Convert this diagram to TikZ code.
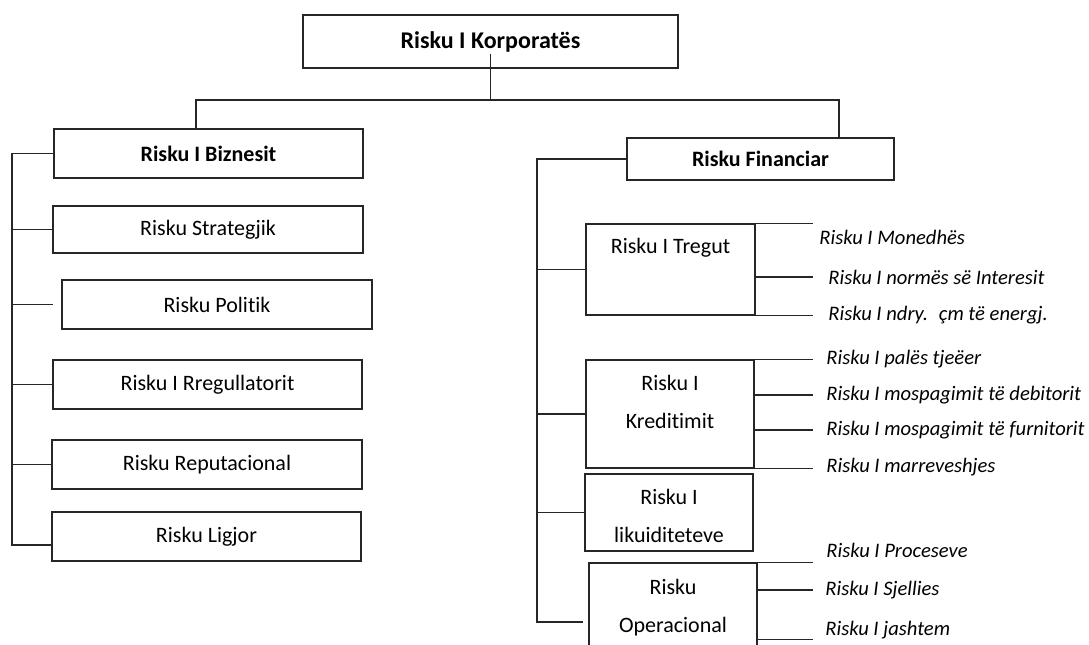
\documentclass[tikz,border=0pt]{standalone}
\usepackage{fontspec}
\setmainfont{Carlito}[Ligatures=NoCommon]
\usetikzlibrary{positioning}

\begin{document}
\begin{tikzpicture}[
        x=0.5pt, y=-0.5pt,
        % This defines the style of our boxes
        box/.style={rectangle, draw=black!85, line width=0.6pt, inner sep=0pt, align=center, font=\fontsize{11}{13}\selectfont},
        head/.style={box, font=\bfseries\fontsize{11}{13}\selectfont},
        % Text inside the small financial boxes
        boxtxt/.style={inner sep=0pt, align=center, font=\fontsize{11}{19}\selectfont},
        % The italic sub-risks on the right
        item/.style={anchor=west, inner sep=0pt, font=\itshape\fontsize{10.3}{13}\selectfont},
        % This defines the style of our connecting lines
        link/.style={draw=black!85, line width=0.6pt}
    ]
    \useasboundingbox (0,0) rectangle (1089,644);

    % --- THE BOXES ---
    \node (corp) [head, font=\bfseries\fontsize{12}{14}\selectfont, minimum width=187.5pt, minimum height=26.5pt] at (490.5,41.5) {Risku I Korporatës};

    \node (bizn) [head, minimum width=154.5pt, minimum height=24.5pt] at (208.5,153.5) {Risku I Biznesit};
    \node (strat) [box, minimum width=155pt, minimum height=23.5pt] at (208,229.5) {Risku Strategjik};
    \node (polit) [box, minimum width=155pt, minimum height=24.5pt] at (217,304.5) {Risku Politik};
    \node (rreg) [box, minimum width=154.5pt, minimum height=24.5pt] at (207.5,384.5) {Risku I Rregullatorit};
    \node (reput) [box, minimum width=155pt, minimum height=24.5pt] at (207,464.5) {Risku Reputacional};
    \node (ligj) [box, minimum width=154.5pt, minimum height=24.5pt] at (206.5,536.5) {Risku Ligjor};

    \node (fin) [head, minimum width=133.5pt, minimum height=21pt] at (760.5,159) {Risku Financiar};
    \node (treg) [box, minimum width=84.5pt, minimum height=45.5pt] at (670.5,269.5) {};
    \node (kred) [box, minimum width=84pt, minimum height=54pt] at (670,414) {};
    \node (likuid) [box, minimum width=84pt, minimum height=38.5pt] at (669,512.5) {};
    \node (oper) [box, minimum width=84pt, minimum height=48.5pt] at (673,611.5) {};

    \node (tregT) [boxtxt, below=7pt of treg.north] {Risku I Tregut};
    \node (kredT) [boxtxt, below=7.5pt of kred.north] {Risku I\\Kreditimit};
    \node (likuidT) [boxtxt, below=7.5pt of likuid.north] {Risku I\\likuiditeteve};
    \node (operT) [boxtxt, below=8pt of oper.north] {Risku\\Operacional};

    % --- THE SUB-RISKS ---
    \node (rMon) [item] at (819,237) {Risku I Monedhës};
    \node (rInt) [item] at (828,277) {Risku I normës së Interesit};
    \node (rEne) [item] at (828,315) {Risku I ndry.~ çm të energj.};
    \node (rPal) [item] at (826,359) {Risku I palës tjeëer};
    \node (rDeb) [item] at (826,395) {Risku I mospagimit të debitorit};
    \node (rFur) [item] at (826,430) {Risku I mospagimit të furnitorit};
    \node (rMar) [item] at (826,467) {Risku I marreveshjes};
    \node (rPro) [item] at (826,550) {Risku I Proceseve};
    \node (rSje) [item] at (825,590) {Risku I Sjellies};
    \node (rJas) [item] at (825,630) {Risku I jashtem};

    % --- THE CONNECTING LINES ---
    \coordinate (jl) at (196,100);
    \coordinate (jr) at (839,100);
    \coordinate (lb) at (12,545);
    \coordinate (rb) at (537,622);
    \coordinate (ends) at (813,0);

    \draw [link] (corp.south) ++(0,-15) -- (corp.south |- jl);
    \draw [link] (jl |- bizn.north) -- (jl) -- (jr) -- (jr |- fin.north);

    \draw [link] (bizn.west) -| (lb) -- (lb -| ligj.west);
    \foreach \n in {strat, rreg, reput}
        \draw [link] (lb |- \n.west) -- (\n.west);
    \draw [link] (lb |- polit.west) -- ++(41,0);

    \draw [link] (fin.west) -| (rb) -- ++(46,0);
    \foreach \n in {treg, kred, likuid}
        \draw [link] (rb |- \n.west) -- (\n.west);

    \draw [link] (treg.north east) -- (treg.north east -| ends);
    \draw [link] (treg.east |- rInt.west) -- (ends |- rInt.west);
    \draw [link] (treg.south east) -- (treg.south east -| ends);
    \draw [link] (kred.north east) -- (kred.north east -| ends);
    \draw [link] (kred.east |- rDeb.west) -- (ends |- rDeb.west);
    \draw [link] (kred.east |- rFur.west) -- (ends |- rFur.west);
    \draw [link] (kred.south east) -- (kred.south east -| ends);
    \draw [link] (oper.north east) -- (oper.north east -| ends);
    \draw [link] (oper.east |- rSje.west) -- (ends |- rSje.west);
    \draw [link] (oper.east |- rJas.south) -- (ends |- rJas.south);

\end{tikzpicture}
\end{document}
